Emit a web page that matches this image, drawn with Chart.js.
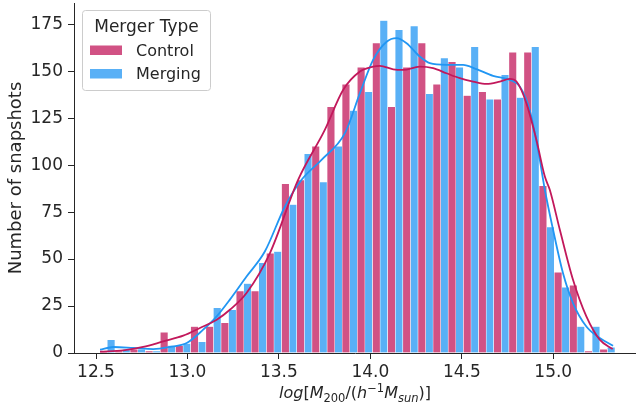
<!DOCTYPE html>
<html>
<head>
<meta charset="utf-8">
<script src="https://cdn.jsdelivr.net/npm/chart.js@4"></script>
<style>
html, body { margin: 0; padding: 0; background: #fff; }
#wrap { width: 636px; height: 409px; }
</style>
</head>
<body>
<div id="wrap"><canvas id="myChart"></canvas></div>
<script>
// bin centres of the histogram (log M200)
const binCenters = [12.562, 12.645, 12.728, 12.811, 12.893, 12.976, 13.059, 13.142, 13.225, 13.308,
    13.390, 13.473, 13.556, 13.639, 13.722, 13.805, 13.887, 13.970, 14.053, 14.136,
    14.219, 14.302, 14.384, 14.467, 14.550, 14.633, 14.716, 14.799, 14.881, 14.964,
    15.047, 15.130, 15.213, 15.296];
const controlCounts = [1, 1, 2, 1, 11, 4, 14, 14, 16, 33,
    33, 53, 90, 92, 110, 131, 143, 152, 165, 131,
    152, 165, 143, 155, 137, 139, 135, 160, 160, 89,
    43, 36, 1, 2];
const mergingCounts = [7, 2, 2, 1, 4, 5, 6, 24, 23, 37,
    48, 54, 79, 106, 91, 110, 129, 139, 177, 172,
    174, 138, 157, 152, 163, 135, 148, 136, 163, 67,
    35, 14, 14, 3];

// kde curves
const controlKdeX = [12.522, 12.649, 12.758, 12.868, 12.977, 13.068, 13.160, 13.232, 13.323, 13.451,
    13.605, 13.751, 13.851, 13.943, 14.015, 14.052, 14.125, 14.179, 14.270, 14.343,
    14.416, 14.489, 14.562, 14.635, 14.708, 14.762, 14.799, 14.853, 14.908, 14.954,
    14.981, 15.036, 15.108, 15.181, 15.254, 15.325];
const controlKdeY = [0.7, 1.4, 3.2, 6.2, 9.2, 13.3, 17.7, 23, 31.9, 53.2,
    92.2, 118.8, 140, 149.8, 152.4, 152.8, 151, 150.7, 152.4, 151.6,
    148.9, 146.3, 144.5, 143.2, 144.5, 145.9, 144.5, 133, 113.4, 93.9,
    86.9, 65.6, 39, 19.5, 7.1, 2.1];
const mergingKdeX = [12.522, 12.595, 12.704, 12.813, 12.904, 12.996, 13.086, 13.160, 13.232, 13.323,
    13.423, 13.533, 13.624, 13.733, 13.861, 13.943, 14.015, 14.089, 14.143, 14.198,
    14.270, 14.325, 14.416, 14.507, 14.580, 14.671, 14.762, 14.817, 14.871, 14.917,
    14.954, 14.999, 15.053, 15.108, 15.181, 15.254, 15.327];
const mergingKdeY = [1.8, 3.2, 2.7, 2.1, 3.2, 5.3, 12.4, 19.5, 28.4, 40.7,
    54, 78, 92.2, 102.8, 117, 138.3, 156, 165.7, 167.6, 164.9,
    157.8, 154.3, 153.4, 153.4, 151.1, 147.5, 145.4, 141.8, 129.4, 108.1,
    86.9, 65.6, 42.6, 26.6, 14.1, 8, 3.9];

const xTicks = [12.5, 13.0, 13.5, 14.0, 14.5, 15.0];
const yTicks = [0, 25, 50, 75, 100, 125, 150, 175];
const seriesNames = ['Control', 'Merging'];

const ink = '#262626';
const lineColors = ['#C2185B', '#2196F3'];
const barColors = ['rgba(194, 24, 91, 0.75)', 'rgba(33, 150, 243, 0.75)'];
const fontFamily = "'DejaVu Sans', sans-serif";

function toPoints(xs, ys) {
    return xs.map((x, i) => ({ x: x, y: ys[i] }));
}

// x axis label with sub/superscripts
const xLabelParts = [
    { text: 'log', italic: true },
    { text: '[', italic: false },
    { text: 'M', italic: true },
    { text: '200', italic: false, shift: 'sub' },
    { text: '/(', italic: false },
    { text: 'h', italic: true },
    { text: '\u22121', italic: false, shift: 'sup' },
    { text: 'M', italic: true },
    { text: 'sun', italic: true, shift: 'sub' },
    { text: ')]', italic: false }
];

const xLabelPlugin = {
    id: 'xLabel',
    afterDraw(chart) {
        const ctx = chart.ctx;
        const area = chart.chartArea;
        const size = 16, small = 11.5;
        const fontFor = p => (p.italic ? 'italic ' : '') + (p.shift ? small : size) + 'px ' + fontFamily;
        ctx.save();
        ctx.fillStyle = ink;
        ctx.textBaseline = 'alphabetic';
        let total = 0;
        xLabelParts.forEach(p => { ctx.font = fontFor(p); total += ctx.measureText(p.text).width; });
        let x = (area.left + area.right) / 2 - total / 2;
        const base = 398;
        xLabelParts.forEach(p => {
            ctx.font = fontFor(p);
            let y = base;
            if (p.shift === 'sub') y += 3.5;
            if (p.shift === 'sup') y -= 6.5;
            ctx.fillText(p.text, x, y);
            x += ctx.measureText(p.text).width;
        });
        ctx.restore();
    }
};

// legend box drawn inside the plot
const legendPlugin = {
    id: 'boxLegend',
    afterDraw(chart) {
        const ctx = chart.ctx;
        ctx.save();
        const bx = 82.5, by = 10.5, bw = 128, bh = 80, r = 3;
        ctx.beginPath();
        ctx.moveTo(bx + r, by);
        ctx.arcTo(bx + bw, by, bx + bw, by + bh, r);
        ctx.arcTo(bx + bw, by + bh, bx, by + bh, r);
        ctx.arcTo(bx, by + bh, bx, by, r);
        ctx.arcTo(bx, by, bx + bw, by, r);
        ctx.closePath();
        ctx.fillStyle = 'rgba(255,255,255,0.8)';
        ctx.fill();
        ctx.strokeStyle = '#cccccc';
        ctx.lineWidth = 1;
        ctx.stroke();

        ctx.fillStyle = ink;
        ctx.textAlign = 'center';
        ctx.textBaseline = 'alphabetic';
        ctx.font = '17px ' + fontFamily;
        ctx.fillText('Merger Type', bx + bw / 2, 31.5);

        ctx.textAlign = 'left';
        ctx.font = '16px ' + fontFamily;
        const rows = [45.5, 69];
        seriesNames.forEach((name, i) => {
            ctx.fillStyle = barColors[i];
            ctx.fillRect(90, rows[i], 32, 9.5);
            ctx.fillStyle = ink;
            ctx.fillText(name, 136, rows[i] + 10);
        });
        ctx.restore();
    }
};

const ctx = document.getElementById('myChart').getContext('2d');
const myChart = new Chart(ctx, {
    type: 'bar',
    data: {
        datasets: [
            {
                type: 'line',
                label: seriesNames[0] + ' kde',
                data: toPoints(controlKdeX, controlKdeY),
                borderColor: lineColors[0],
                borderWidth: 1.8,
                pointRadius: 0,
                cubicInterpolationMode: 'monotone',
                order: 0
            },
            {
                type: 'line',
                label: seriesNames[1] + ' kde',
                data: toPoints(mergingKdeX, mergingKdeY),
                borderColor: lineColors[1],
                borderWidth: 1.8,
                pointRadius: 0,
                cubicInterpolationMode: 'monotone',
                order: 0
            },
            {
                label: seriesNames[0],
                data: toPoints(binCenters, controlCounts),
                backgroundColor: barColors[0],
                borderColor: '#ffffff',
                borderWidth: 0.5,
                categoryPercentage: 1,
                barPercentage: 1,
                order: 1
            },
            {
                label: seriesNames[1],
                data: toPoints(binCenters, mergingCounts),
                backgroundColor: barColors[1],
                borderColor: '#ffffff',
                borderWidth: 0.5,
                categoryPercentage: 1,
                barPercentage: 1,
                order: 1
            }
        ]
    },
    plugins: [xLabelPlugin, legendPlugin],
    options: {
        responsive: true,
        maintainAspectRatio: false,
        animation: false,
        layout: { padding: { top: 3, right: 0, bottom: 0, left: 0 } },
        plugins: {
            legend: { display: false },
            tooltip: { enabled: false }
        },
        scales: {
            x: {
                type: 'linear',
                min: 12.3797,
                max: 15.4524,
                offset: false,
                afterBuildTicks: (scale) => { scale.ticks = xTicks.map(v => ({ value: v })); },
                afterFit: (scale) => {
                    scale.height = 56;
                    scale.paddingLeft = 0;
                    scale.paddingRight = 0;
                },
                ticks: {
                    autoSkip: false,
                    maxRotation: 0,
                    padding: 3,
                    color: ink,
                    font: { family: fontFamily, size: 17 },
                    callback: (v) => Number(v).toFixed(1)
                },
                grid: {
                    display: true,
                    drawOnChartArea: false,
                    drawTicks: true,
                    tickLength: 6,
                    tickWidth: 1,
                    tickColor: ink,
                    offset: false
                },
                border: { display: true, color: ink, width: 1 }
            },
            y: {
                min: 0,
                max: 186.3,
                afterBuildTicks: (scale) => { scale.ticks = yTicks.map(v => ({ value: v })); },
                afterFit: (scale) => {
                    scale.width = 74;
                    scale.paddingTop = 0;
                    scale.paddingBottom = 0;
                },
                ticks: {
                    padding: 5,
                    color: ink,
                    font: { family: fontFamily, size: 17 }
                },
                grid: {
                    display: true,
                    drawOnChartArea: false,
                    drawTicks: true,
                    tickLength: 6,
                    tickWidth: 1,
                    tickColor: ink
                },
                border: { display: true, color: ink, width: 1 },
                title: {
                    display: true,
                    text: 'Number of snapshots',
                    color: ink,
                    font: { family: fontFamily, size: 18 },
                    padding: { top: 6, bottom: 0 }
                }
            }
        }
    }
});
</script>
</body>
</html>
